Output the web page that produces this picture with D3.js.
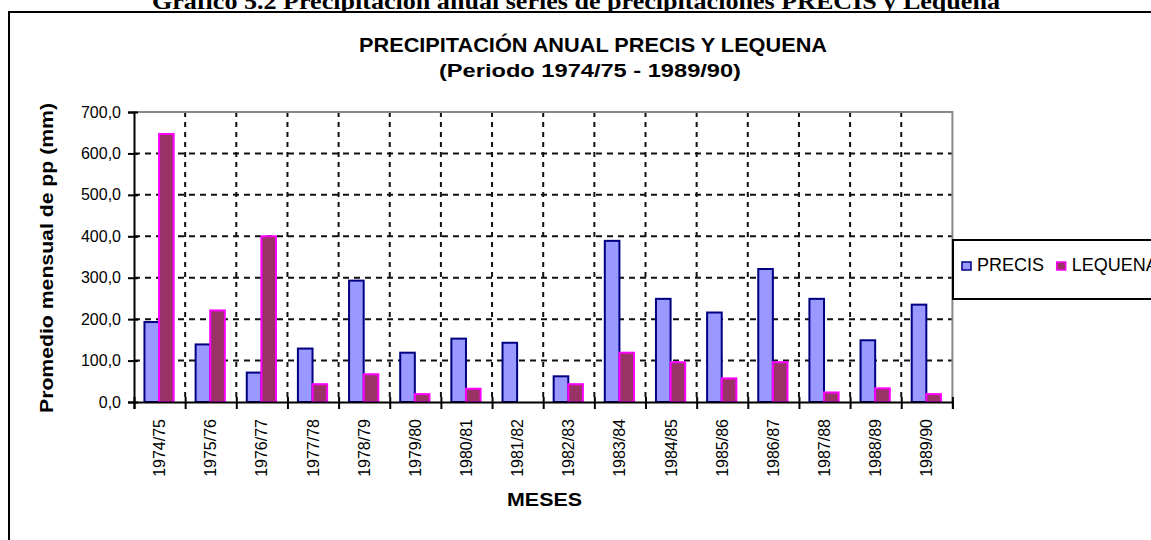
<!DOCTYPE html>
<html>
<head>
<meta charset="utf-8">
<script src="https://cdn.jsdelivr.net/npm/d3@7"></script>
<style>
  html, body { margin: 0; padding: 0; background: #fff; }
  svg { display: block; }
</style>
</head>
<body>
<svg id="chart" width="1151" height="540"></svg>
<script>
// Annual precipitation, hydrological years 1974/75 - 1989/90 (mm)
const categories = ["1974/75", "1975/76", "1976/77", "1977/78", "1978/79", "1979/80",
  "1980/81", "1981/82", "1982/83", "1983/84", "1984/85", "1985/86",
  "1986/87", "1987/88", "1988/89", "1989/90"];
const seriesNames = ["PRECIS", "LEQUENA"];
const precis  = [193, 139, 71, 129, 293, 119, 153, 143, 62, 389, 249, 216, 321, 249, 149, 235];
const lequena = [647, 221, 400, 43, 67, 19, 32, 0, 43, 119, 96, 57, 96, 23, 33, 19];
const yTicks = [0, 100, 200, 300, 400, 500, 600, 700];

const fills   = { PRECIS: "#9999FF", LEQUENA: "#993366" };
const strokes = { PRECIS: "#000080", LEQUENA: "#FF00FF" };
const values  = { PRECIS: precis, LEQUENA: lequena };

const svg = d3.select("#chart");
const sans = "'Liberation Sans', Arial, sans-serif";

// page caption above the framed chart
svg.append("text")
  .attr("x", 576).attr("y", 9)
  .attr("text-anchor", "middle")
  .attr("font-family", "'Liberation Serif', 'Times New Roman', serif")
  .attr("font-weight", "bold").attr("font-size", 24)
  .attr("textLength", 848).attr("lengthAdjust", "spacingAndGlyphs")
  .text("Gráfico 5.2 Precipitación anual series de precipitaciones PRECIS y Lequena");

// outer chart frame (continues past the right and bottom edges)
svg.append("rect")
  .attr("x", 9).attr("y", 12).attr("width", 1200).attr("height", 600)
  .attr("fill", "#fff").attr("stroke", "#000").attr("stroke-width", 2);

// chart titles
svg.append("text")
  .attr("x", 593).attr("y", 52)
  .attr("text-anchor", "middle")
  .attr("font-family", sans).attr("font-weight", "bold").attr("font-size", 20)
  .attr("textLength", 468).attr("lengthAdjust", "spacingAndGlyphs")
  .text("PRECIPITACIÓN ANUAL PRECIS Y LEQUENA");
svg.append("text")
  .attr("x", 590).attr("y", 77)
  .attr("text-anchor", "middle")
  .attr("font-family", sans).attr("font-weight", "bold").attr("font-size", 19)
  .attr("textLength", 302).attr("lengthAdjust", "spacingAndGlyphs")
  .text("(Periodo 1974/75 - 1989/90)");

// plot area
const pLeft = 134, pRight = 952.4, pTop = 112, pBottom = 402;

const x0 = d3.scaleBand().domain(categories).range([pLeft, pRight]).padding(0);
const bw = x0.bandwidth() / 3.5;            // gap width 150 %
const off = (x0.bandwidth() - 2 * bw) / 2 - 0.5;
const x1 = d3.scaleBand().domain(seriesNames).range([off, off + 2 * bw]).padding(0);
const y = d3.scaleLinear().domain([0, 700]).range([pBottom, pTop]);

// horizontal dashed gridlines
svg.append("g")
  .selectAll("line")
  .data(yTicks.filter(t => t > 0 && t < 700))
  .join("line")
  .attr("x1", pLeft).attr("x2", pRight)
  .attr("y1", d => y(d)).attr("y2", d => y(d))
  .attr("stroke", "#111").attr("stroke-width", 2)
  .attr("stroke-dasharray", "6,5");

// vertical dashed gridlines at category boundaries
svg.append("g")
  .selectAll("line")
  .data(categories.slice(1))
  .join("line")
  .attr("x1", d => x0(d)).attr("x2", d => x0(d))
  .attr("y1", pTop).attr("y2", pBottom)
  .attr("stroke", "#111").attr("stroke-width", 2)
  .attr("stroke-dasharray", "5,5");

// grey top and right borders of the plot area
svg.append("path")
  .attr("d", `M${pLeft},${pTop}H${pRight}V${pBottom}`)
  .attr("fill", "none").attr("stroke", "#888").attr("stroke-width", 2);

// bars
const groups = svg.append("g")
  .selectAll("g")
  .data(categories)
  .join("g")
  .attr("transform", d => `translate(${x0(d)},0)`);

groups.selectAll("rect")
  .data((c, i) => seriesNames.map(s => ({ s, v: values[s][i] })).filter(d => d.v > 0))
  .join("rect")
  .attr("x", d => x1(d.s))
  .attr("y", d => y(d.v))
  .attr("width", x1.bandwidth())
  .attr("height", d => y(0) - y(d.v))
  .attr("fill", d => fills[d.s])
  .attr("stroke", d => strokes[d.s])
  .attr("stroke-width", 2);

// y axis
const yAxis = svg.append("g")
  .attr("transform", `translate(${pLeft},0)`)
  .call(d3.axisLeft(y).tickValues(yTicks)
    .tickFormat(d => d3.format(".1f")(d).replace(".", ","))
    .tickSize(6).tickPadding(7));
yAxis.select(".domain").attr("stroke", "#000").attr("stroke-width", 2);
yAxis.selectAll(".tick line").attr("stroke", "#000").attr("stroke-width", 2)
  .attr("x1", 4);
yAxis.selectAll(".tick text")
  .attr("font-family", sans).attr("font-size", 16).attr("fill", "#000");

// x axis
const xTickScale = d3.scaleLinear().domain([0, categories.length]).range([pLeft, pRight]);
const xAxis = svg.append("g")
  .attr("transform", `translate(0,${pBottom})`)
  .call(d3.axisBottom(xTickScale).tickValues(d3.range(0, categories.length + 1))
    .tickFormat("").tickSize(7));
xAxis.select(".domain").attr("stroke", "#000").attr("stroke-width", 2);
xAxis.selectAll(".tick line").attr("stroke", "#000").attr("stroke-width", 2)
  .attr("y1", -5);

svg.append("g")
  .selectAll("text")
  .data(categories)
  .join("text")
  .attr("transform", d => `translate(${x0(d) + x0.bandwidth() / 2},419) rotate(-90)`)
  .attr("text-anchor", "end")
  .attr("dominant-baseline", "central")
  .attr("font-family", sans).attr("font-size", 16)
  .text(d => d);

// axis titles
svg.append("text")
  .attr("transform", `translate(53,258) rotate(-90)`)
  .attr("text-anchor", "middle")
  .attr("font-family", sans).attr("font-weight", "bold").attr("font-size", 18)
  .attr("textLength", 310).attr("lengthAdjust", "spacingAndGlyphs")
  .text("Promedio mensual de pp (mm)");
svg.append("text")
  .attr("x", 544.5).attr("y", 506)
  .attr("text-anchor", "middle")
  .attr("font-family", sans).attr("font-weight", "bold").attr("font-size", 18)
  .attr("textLength", 75).attr("lengthAdjust", "spacingAndGlyphs")
  .text("MESES");

// legend box
svg.append("rect")
  .attr("x", 953).attr("y", 240).attr("width", 260).attr("height", 59)
  .attr("fill", "#fff").attr("stroke", "#000").attr("stroke-width", 2);

const legendX = d3.scalePoint().domain(seriesNames).range([962, 1056.7]);
const leg = svg.append("g")
  .selectAll("g")
  .data(seriesNames)
  .join("g")
  .attr("transform", d => `translate(${legendX(d)},0)`);
leg.append("rect")
  .attr("x", 0).attr("y", 262).attr("width", 9).attr("height", 8)
  .attr("fill", d => fills[d]).attr("stroke", d => strokes[d]).attr("stroke-width", 1.5);
leg.append("text")
  .attr("x", 15).attr("y", 270.5)
  .attr("font-family", sans).attr("font-size", 18)
  .text(d => d);
</script>
</body>
</html>
